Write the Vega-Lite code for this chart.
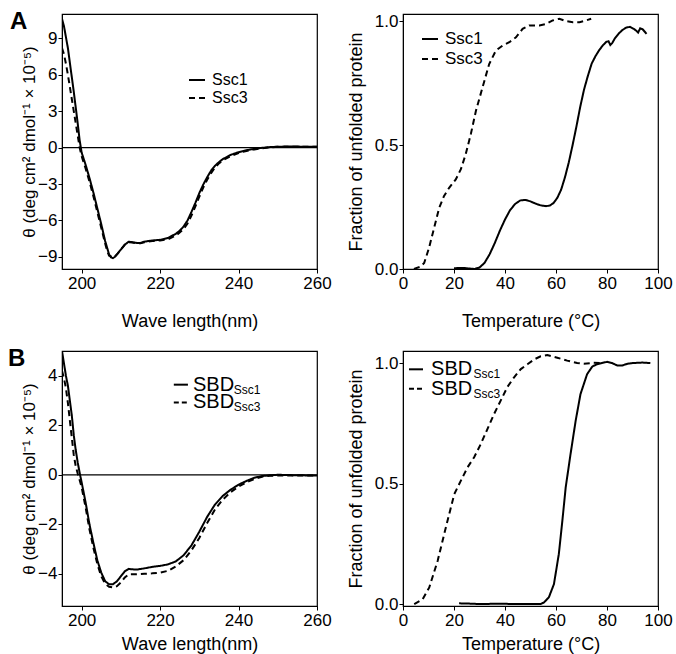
{
"$schema": "https://vega.github.io/schema/vega-lite/v6.json",
"background": "white",
"padding": {"left": 7, "top": 9, "right": 5, "bottom": 0},
"config": {
  "font": "Liberation Sans",
  "view": {"stroke": "black", "strokeWidth": 1.2},
  "axis": {"grid": false, "domainColor": "black", "tickColor": "black", "labelColor": "black", "titleColor": "black", "labelFontSize": 17, "titleFontSize": 18, "titleFontWeight": "normal", "tickSize": 4, "labelPadding": 2, "titlePadding": 7, "labelFlush": false, "labelOverlap": false},
  "axisY": {"labelPadding": 1},
  "legend": {"labelFontSize": 17, "labelColor": "black", "symbolType": "stroke", "symbolStrokeWidth": 2, "symbolStrokeColor": "black", "symbolSize": 256, "labelOffset": 6},
  "title": {"color": "black"}
},
"datasets": {
  "cdA": [
    {"wavelength":195,"theta":10.6,"protein":"Ssc1"},{"wavelength":195.5,"theta":10.0,"protein":"Ssc1"},{"wavelength":196,"theta":9.1,"protein":"Ssc1"},{"wavelength":196.5,"theta":8.2,"protein":"Ssc1"},{"wavelength":197,"theta":7.0,"protein":"Ssc1"},{"wavelength":197.5,"theta":5.8,"protein":"Ssc1"},{"wavelength":198,"theta":4.6,"protein":"Ssc1"},{"wavelength":198.5,"theta":3.3,"protein":"Ssc1"},{"wavelength":199,"theta":2.0,"protein":"Ssc1"},{"wavelength":199.5,"theta":0.6,"protein":"Ssc1"},{"wavelength":200,"theta":-0.4,"protein":"Ssc1"},{"wavelength":201,"theta":-1.4,"protein":"Ssc1"},{"wavelength":202,"theta":-2.5,"protein":"Ssc1"},{"wavelength":203,"theta":-3.7,"protein":"Ssc1"},{"wavelength":204,"theta":-5.0,"protein":"Ssc1"},{"wavelength":205,"theta":-6.3,"protein":"Ssc1"},{"wavelength":206,"theta":-7.7,"protein":"Ssc1"},{"wavelength":207,"theta":-8.8,"protein":"Ssc1"},{"wavelength":207.5,"theta":-9.05,"protein":"Ssc1"},{"wavelength":208,"theta":-9.1,"protein":"Ssc1"},{"wavelength":208.5,"theta":-9.0,"protein":"Ssc1"},{"wavelength":209,"theta":-8.8,"protein":"Ssc1"},{"wavelength":210,"theta":-8.4,"protein":"Ssc1"},{"wavelength":211,"theta":-8.0,"protein":"Ssc1"},{"wavelength":212,"theta":-7.75,"protein":"Ssc1"},{"wavelength":213,"theta":-7.8,"protein":"Ssc1"},{"wavelength":214,"theta":-7.85,"protein":"Ssc1"},{"wavelength":215,"theta":-7.85,"protein":"Ssc1"},{"wavelength":216,"theta":-7.75,"protein":"Ssc1"},{"wavelength":218,"theta":-7.65,"protein":"Ssc1"},{"wavelength":220,"theta":-7.6,"protein":"Ssc1"},{"wavelength":222,"theta":-7.45,"protein":"Ssc1"},{"wavelength":224,"theta":-7.1,"protein":"Ssc1"},{"wavelength":225,"theta":-6.85,"protein":"Ssc1"},{"wavelength":226,"theta":-6.5,"protein":"Ssc1"},{"wavelength":227,"theta":-6.0,"protein":"Ssc1"},{"wavelength":228,"theta":-5.3,"protein":"Ssc1"},{"wavelength":229,"theta":-4.55,"protein":"Ssc1"},{"wavelength":230,"theta":-3.75,"protein":"Ssc1"},{"wavelength":231,"theta":-3.05,"protein":"Ssc1"},{"wavelength":232,"theta":-2.45,"protein":"Ssc1"},{"wavelength":233,"theta":-1.9,"protein":"Ssc1"},{"wavelength":234,"theta":-1.5,"protein":"Ssc1"},{"wavelength":235,"theta":-1.2,"protein":"Ssc1"},{"wavelength":236,"theta":-0.95,"protein":"Ssc1"},{"wavelength":238,"theta":-0.6,"protein":"Ssc1"},{"wavelength":240,"theta":-0.38,"protein":"Ssc1"},{"wavelength":242,"theta":-0.22,"protein":"Ssc1"},{"wavelength":244,"theta":-0.1,"protein":"Ssc1"},{"wavelength":246,"theta":-0.02,"protein":"Ssc1"},{"wavelength":248,"theta":0.04,"protein":"Ssc1"},{"wavelength":250,"theta":0.07,"protein":"Ssc1"},{"wavelength":252,"theta":0.08,"protein":"Ssc1"},{"wavelength":255,"theta":0.08,"protein":"Ssc1"},{"wavelength":258,"theta":0.07,"protein":"Ssc1"},{"wavelength":260,"theta":0.07,"protein":"Ssc1"},
    {"wavelength":195,"theta":8.2,"protein":"Ssc3"},{"wavelength":195.5,"theta":7.7,"protein":"Ssc3"},{"wavelength":196,"theta":6.9,"protein":"Ssc3"},{"wavelength":196.5,"theta":6.0,"protein":"Ssc3"},{"wavelength":197,"theta":5.0,"protein":"Ssc3"},{"wavelength":197.5,"theta":4.0,"protein":"Ssc3"},{"wavelength":198,"theta":3.0,"protein":"Ssc3"},{"wavelength":198.5,"theta":2.0,"protein":"Ssc3"},{"wavelength":199,"theta":1.0,"protein":"Ssc3"},{"wavelength":199.5,"theta":0.0,"protein":"Ssc3"},{"wavelength":200,"theta":-0.7,"protein":"Ssc3"},{"wavelength":201,"theta":-1.7,"protein":"Ssc3"},{"wavelength":202,"theta":-2.8,"protein":"Ssc3"},{"wavelength":203,"theta":-4.0,"protein":"Ssc3"},{"wavelength":204,"theta":-5.3,"protein":"Ssc3"},{"wavelength":205,"theta":-6.6,"protein":"Ssc3"},{"wavelength":206,"theta":-7.9,"protein":"Ssc3"},{"wavelength":206.5,"theta":-8.5,"protein":"Ssc3"},{"wavelength":207,"theta":-8.9,"protein":"Ssc3"},{"wavelength":207.5,"theta":-8.95,"protein":"Ssc3"},{"wavelength":208,"theta":-8.85,"protein":"Ssc3"},{"wavelength":208.5,"theta":-8.95,"protein":"Ssc3"},{"wavelength":209,"theta":-8.8,"protein":"Ssc3"},{"wavelength":210,"theta":-8.4,"protein":"Ssc3"},{"wavelength":211,"theta":-8.0,"protein":"Ssc3"},{"wavelength":212,"theta":-7.8,"protein":"Ssc3"},{"wavelength":213,"theta":-7.82,"protein":"Ssc3"},{"wavelength":214,"theta":-7.88,"protein":"Ssc3"},{"wavelength":215,"theta":-7.88,"protein":"Ssc3"},{"wavelength":216,"theta":-7.8,"protein":"Ssc3"},{"wavelength":218,"theta":-7.7,"protein":"Ssc3"},{"wavelength":220,"theta":-7.65,"protein":"Ssc3"},{"wavelength":222,"theta":-7.55,"protein":"Ssc3"},{"wavelength":224,"theta":-7.25,"protein":"Ssc3"},{"wavelength":225,"theta":-7.0,"protein":"Ssc3"},{"wavelength":226,"theta":-6.7,"protein":"Ssc3"},{"wavelength":227,"theta":-6.25,"protein":"Ssc3"},{"wavelength":228,"theta":-5.6,"protein":"Ssc3"},{"wavelength":229,"theta":-4.85,"protein":"Ssc3"},{"wavelength":230,"theta":-4.05,"protein":"Ssc3"},{"wavelength":231,"theta":-3.3,"protein":"Ssc3"},{"wavelength":232,"theta":-2.65,"protein":"Ssc3"},{"wavelength":233,"theta":-2.1,"protein":"Ssc3"},{"wavelength":234,"theta":-1.65,"protein":"Ssc3"},{"wavelength":235,"theta":-1.3,"protein":"Ssc3"},{"wavelength":236,"theta":-1.05,"protein":"Ssc3"},{"wavelength":238,"theta":-0.7,"protein":"Ssc3"},{"wavelength":240,"theta":-0.45,"protein":"Ssc3"},{"wavelength":242,"theta":-0.28,"protein":"Ssc3"},{"wavelength":244,"theta":-0.15,"protein":"Ssc3"},{"wavelength":246,"theta":-0.05,"protein":"Ssc3"},{"wavelength":248,"theta":0.02,"protein":"Ssc3"},{"wavelength":250,"theta":0.06,"protein":"Ssc3"},{"wavelength":252,"theta":0.07,"protein":"Ssc3"},{"wavelength":255,"theta":0.07,"protein":"Ssc3"},{"wavelength":258,"theta":0.06,"protein":"Ssc3"},{"wavelength":260,"theta":0.06,"protein":"Ssc3"}
  ],
  "meltA": [
    {"temperature":20,"fraction":0.003,"protein":"Ssc1"},{"temperature":22,"fraction":0.004,"protein":"Ssc1"},{"temperature":24,"fraction":0.004,"protein":"Ssc1"},{"temperature":26,"fraction":0.002,"protein":"Ssc1"},{"temperature":28,"fraction":0.0,"protein":"Ssc1"},{"temperature":30,"fraction":0.006,"protein":"Ssc1"},{"temperature":32,"fraction":0.025,"protein":"Ssc1"},{"temperature":34,"fraction":0.06,"protein":"Ssc1"},{"temperature":36,"fraction":0.105,"protein":"Ssc1"},{"temperature":38,"fraction":0.155,"protein":"Ssc1"},{"temperature":40,"fraction":0.2,"protein":"Ssc1"},{"temperature":42,"fraction":0.238,"protein":"Ssc1"},{"temperature":44,"fraction":0.263,"protein":"Ssc1"},{"temperature":46,"fraction":0.277,"protein":"Ssc1"},{"temperature":48,"fraction":0.279,"protein":"Ssc1"},{"temperature":50,"fraction":0.273,"protein":"Ssc1"},{"temperature":52,"fraction":0.264,"protein":"Ssc1"},{"temperature":54,"fraction":0.257,"protein":"Ssc1"},{"temperature":56,"fraction":0.254,"protein":"Ssc1"},{"temperature":57.5,"fraction":0.256,"protein":"Ssc1"},{"temperature":59,"fraction":0.266,"protein":"Ssc1"},{"temperature":60.5,"fraction":0.287,"protein":"Ssc1"},{"temperature":62,"fraction":0.32,"protein":"Ssc1"},{"temperature":63.5,"fraction":0.37,"protein":"Ssc1"},{"temperature":65,"fraction":0.43,"protein":"Ssc1"},{"temperature":66.5,"fraction":0.5,"protein":"Ssc1"},{"temperature":68,"fraction":0.575,"protein":"Ssc1"},{"temperature":69.5,"fraction":0.655,"protein":"Ssc1"},{"temperature":71,"fraction":0.725,"protein":"Ssc1"},{"temperature":72.5,"fraction":0.78,"protein":"Ssc1"},{"temperature":74,"fraction":0.83,"protein":"Ssc1"},{"temperature":75.5,"fraction":0.86,"protein":"Ssc1"},{"temperature":77,"fraction":0.885,"protein":"Ssc1"},{"temperature":78.5,"fraction":0.905,"protein":"Ssc1"},{"temperature":79.8,"fraction":0.918,"protein":"Ssc1"},{"temperature":80.6,"fraction":0.92,"protein":"Ssc1"},{"temperature":81.3,"fraction":0.905,"protein":"Ssc1"},{"temperature":82,"fraction":0.912,"protein":"Ssc1"},{"temperature":83,"fraction":0.93,"protein":"Ssc1"},{"temperature":84.5,"fraction":0.95,"protein":"Ssc1"},{"temperature":86,"fraction":0.965,"protein":"Ssc1"},{"temperature":87.5,"fraction":0.975,"protein":"Ssc1"},{"temperature":89,"fraction":0.978,"protein":"Ssc1"},{"temperature":90.5,"fraction":0.97,"protein":"Ssc1"},{"temperature":91.5,"fraction":0.962,"protein":"Ssc1"},{"temperature":92.2,"fraction":0.955,"protein":"Ssc1"},{"temperature":93,"fraction":0.972,"protein":"Ssc1"},{"temperature":94,"fraction":0.968,"protein":"Ssc1"},{"temperature":95.5,"fraction":0.95,"protein":"Ssc1"},
    {"temperature":4.3,"fraction":0.0,"protein":"Ssc3"},{"temperature":6.9,"fraction":0.01,"protein":"Ssc3"},{"temperature":8.3,"fraction":0.024,"protein":"Ssc3"},{"temperature":10.2,"fraction":0.085,"protein":"Ssc3"},{"temperature":12.2,"fraction":0.166,"protein":"Ssc3"},{"temperature":14.2,"fraction":0.247,"protein":"Ssc3"},{"temperature":16.1,"fraction":0.295,"protein":"Ssc3"},{"temperature":18.1,"fraction":0.328,"protein":"Ssc3"},{"temperature":20.7,"fraction":0.362,"protein":"Ssc3"},{"temperature":22.7,"fraction":0.403,"protein":"Ssc3"},{"temperature":24.6,"fraction":0.464,"protein":"Ssc3"},{"temperature":26.6,"fraction":0.545,"protein":"Ssc3"},{"temperature":28.6,"fraction":0.639,"protein":"Ssc3"},{"temperature":31.2,"fraction":0.734,"protein":"Ssc3"},{"temperature":33.8,"fraction":0.828,"protein":"Ssc3"},{"temperature":36.4,"fraction":0.882,"protein":"Ssc3"},{"temperature":39.1,"fraction":0.903,"protein":"Ssc3"},{"temperature":41.7,"fraction":0.916,"protein":"Ssc3"},{"temperature":44.3,"fraction":0.936,"protein":"Ssc3"},{"temperature":46.9,"fraction":0.97,"protein":"Ssc3"},{"temperature":49.5,"fraction":0.984,"protein":"Ssc3"},{"temperature":53.5,"fraction":0.984,"protein":"Ssc3"},{"temperature":56.1,"fraction":0.99,"protein":"Ssc3"},{"temperature":58.7,"fraction":1.004,"protein":"Ssc3"},{"temperature":61.3,"fraction":1.011,"protein":"Ssc3"},{"temperature":64,"fraction":1.001,"protein":"Ssc3"},{"temperature":66.6,"fraction":0.997,"protein":"Ssc3"},{"temperature":69.2,"fraction":0.997,"protein":"Ssc3"},{"temperature":71.8,"fraction":1.004,"protein":"Ssc3"},{"temperature":73.8,"fraction":1.011,"protein":"Ssc3"}
  ],
  "cdB": [
    {"wavelength":195,"theta":5.0,"protein":"SBD Ssc1"},{"wavelength":195.5,"theta":4.5,"protein":"SBD Ssc1"},{"wavelength":196,"theta":4.0,"protein":"SBD Ssc1"},{"wavelength":196.5,"theta":3.6,"protein":"SBD Ssc1"},{"wavelength":197,"theta":3.0,"protein":"SBD Ssc1"},{"wavelength":197.5,"theta":2.4,"protein":"SBD Ssc1"},{"wavelength":198,"theta":1.6,"protein":"SBD Ssc1"},{"wavelength":198.5,"theta":1.0,"protein":"SBD Ssc1"},{"wavelength":199,"theta":0.5,"protein":"SBD Ssc1"},{"wavelength":199.6,"theta":0.0,"protein":"SBD Ssc1"},{"wavelength":200,"theta":-0.3,"protein":"SBD Ssc1"},{"wavelength":201,"theta":-1.1,"protein":"SBD Ssc1"},{"wavelength":202,"theta":-2.0,"protein":"SBD Ssc1"},{"wavelength":203,"theta":-2.75,"protein":"SBD Ssc1"},{"wavelength":204,"theta":-3.45,"protein":"SBD Ssc1"},{"wavelength":205,"theta":-3.95,"protein":"SBD Ssc1"},{"wavelength":206,"theta":-4.3,"protein":"SBD Ssc1"},{"wavelength":207,"theta":-4.42,"protein":"SBD Ssc1"},{"wavelength":208,"theta":-4.42,"protein":"SBD Ssc1"},{"wavelength":209,"theta":-4.3,"protein":"SBD Ssc1"},{"wavelength":210,"theta":-4.1,"protein":"SBD Ssc1"},{"wavelength":211,"theta":-3.9,"protein":"SBD Ssc1"},{"wavelength":212,"theta":-3.8,"protein":"SBD Ssc1"},{"wavelength":213,"theta":-3.82,"protein":"SBD Ssc1"},{"wavelength":214,"theta":-3.83,"protein":"SBD Ssc1"},{"wavelength":216,"theta":-3.78,"protein":"SBD Ssc1"},{"wavelength":218,"theta":-3.72,"protein":"SBD Ssc1"},{"wavelength":220,"theta":-3.68,"protein":"SBD Ssc1"},{"wavelength":222,"theta":-3.62,"protein":"SBD Ssc1"},{"wavelength":224,"theta":-3.5,"protein":"SBD Ssc1"},{"wavelength":226,"theta":-3.25,"protein":"SBD Ssc1"},{"wavelength":228,"theta":-2.85,"protein":"SBD Ssc1"},{"wavelength":230,"theta":-2.3,"protein":"SBD Ssc1"},{"wavelength":232,"theta":-1.7,"protein":"SBD Ssc1"},{"wavelength":234,"theta":-1.2,"protein":"SBD Ssc1"},{"wavelength":236,"theta":-0.85,"protein":"SBD Ssc1"},{"wavelength":238,"theta":-0.6,"protein":"SBD Ssc1"},{"wavelength":240,"theta":-0.4,"protein":"SBD Ssc1"},{"wavelength":242,"theta":-0.25,"protein":"SBD Ssc1"},{"wavelength":244,"theta":-0.12,"protein":"SBD Ssc1"},{"wavelength":246,"theta":-0.05,"protein":"SBD Ssc1"},{"wavelength":248,"theta":-0.02,"protein":"SBD Ssc1"},{"wavelength":250,"theta":0.0,"protein":"SBD Ssc1"},{"wavelength":255,"theta":-0.02,"protein":"SBD Ssc1"},{"wavelength":260,"theta":-0.03,"protein":"SBD Ssc1"},
    {"wavelength":195,"theta":4.2,"protein":"SBD Ssc3"},{"wavelength":195.5,"theta":3.9,"protein":"SBD Ssc3"},{"wavelength":196,"theta":3.5,"protein":"SBD Ssc3"},{"wavelength":196.5,"theta":2.9,"protein":"SBD Ssc3"},{"wavelength":197,"theta":2.2,"protein":"SBD Ssc3"},{"wavelength":197.5,"theta":1.5,"protein":"SBD Ssc3"},{"wavelength":198,"theta":0.8,"protein":"SBD Ssc3"},{"wavelength":198.5,"theta":0.35,"protein":"SBD Ssc3"},{"wavelength":199,"theta":0.05,"protein":"SBD Ssc3"},{"wavelength":199.3,"theta":-0.1,"protein":"SBD Ssc3"},{"wavelength":200,"theta":-0.5,"protein":"SBD Ssc3"},{"wavelength":201,"theta":-1.3,"protein":"SBD Ssc3"},{"wavelength":202,"theta":-2.2,"protein":"SBD Ssc3"},{"wavelength":203,"theta":-2.95,"protein":"SBD Ssc3"},{"wavelength":204,"theta":-3.6,"protein":"SBD Ssc3"},{"wavelength":205,"theta":-4.1,"protein":"SBD Ssc3"},{"wavelength":206,"theta":-4.4,"protein":"SBD Ssc3"},{"wavelength":207,"theta":-4.52,"protein":"SBD Ssc3"},{"wavelength":208,"theta":-4.55,"protein":"SBD Ssc3"},{"wavelength":209,"theta":-4.5,"protein":"SBD Ssc3"},{"wavelength":210,"theta":-4.35,"protein":"SBD Ssc3"},{"wavelength":211,"theta":-4.15,"protein":"SBD Ssc3"},{"wavelength":212,"theta":-4.02,"protein":"SBD Ssc3"},{"wavelength":214,"theta":-4.02,"protein":"SBD Ssc3"},{"wavelength":216,"theta":-4.0,"protein":"SBD Ssc3"},{"wavelength":218,"theta":-3.98,"protein":"SBD Ssc3"},{"wavelength":220,"theta":-3.95,"protein":"SBD Ssc3"},{"wavelength":222,"theta":-3.88,"protein":"SBD Ssc3"},{"wavelength":224,"theta":-3.7,"protein":"SBD Ssc3"},{"wavelength":226,"theta":-3.45,"protein":"SBD Ssc3"},{"wavelength":228,"theta":-3.05,"protein":"SBD Ssc3"},{"wavelength":230,"theta":-2.55,"protein":"SBD Ssc3"},{"wavelength":232,"theta":-1.95,"protein":"SBD Ssc3"},{"wavelength":234,"theta":-1.4,"protein":"SBD Ssc3"},{"wavelength":236,"theta":-1.0,"protein":"SBD Ssc3"},{"wavelength":238,"theta":-0.7,"protein":"SBD Ssc3"},{"wavelength":240,"theta":-0.48,"protein":"SBD Ssc3"},{"wavelength":242,"theta":-0.3,"protein":"SBD Ssc3"},{"wavelength":244,"theta":-0.17,"protein":"SBD Ssc3"},{"wavelength":246,"theta":-0.08,"protein":"SBD Ssc3"},{"wavelength":248,"theta":-0.04,"protein":"SBD Ssc3"},{"wavelength":250,"theta":-0.03,"protein":"SBD Ssc3"},{"wavelength":255,"theta":-0.03,"protein":"SBD Ssc3"},{"wavelength":260,"theta":-0.03,"protein":"SBD Ssc3"}
  ],
  "meltB": [
    {"temperature":22,"fraction":0.003,"protein":"SBD Ssc1"},{"temperature":26,"fraction":0.002,"protein":"SBD Ssc1"},{"temperature":30,"fraction":0.0,"protein":"SBD Ssc1"},{"temperature":35,"fraction":0.001,"protein":"SBD Ssc1"},{"temperature":40,"fraction":0.001,"protein":"SBD Ssc1"},{"temperature":45,"fraction":0.0,"protein":"SBD Ssc1"},{"temperature":50,"fraction":0.0,"protein":"SBD Ssc1"},{"temperature":54,"fraction":0.0,"protein":"SBD Ssc1"},{"temperature":55.3,"fraction":0.007,"protein":"SBD Ssc1"},{"temperature":57.2,"fraction":0.028,"protein":"SBD Ssc1"},{"temperature":59.2,"fraction":0.083,"protein":"SBD Ssc1"},{"temperature":61.1,"fraction":0.207,"protein":"SBD Ssc1"},{"temperature":62.5,"fraction":0.346,"protein":"SBD Ssc1"},{"temperature":63.8,"fraction":0.484,"protein":"SBD Ssc1"},{"temperature":65.7,"fraction":0.622,"protein":"SBD Ssc1"},{"temperature":67.7,"fraction":0.76,"protein":"SBD Ssc1"},{"temperature":69.6,"fraction":0.871,"protein":"SBD Ssc1"},{"temperature":72.2,"fraction":0.954,"protein":"SBD Ssc1"},{"temperature":74.2,"fraction":0.985,"protein":"SBD Ssc1"},{"temperature":76,"fraction":0.995,"protein":"SBD Ssc1"},{"temperature":78,"fraction":1.0,"protein":"SBD Ssc1"},{"temperature":80,"fraction":1.005,"protein":"SBD Ssc1"},{"temperature":82,"fraction":1.0,"protein":"SBD Ssc1"},{"temperature":84,"fraction":0.99,"protein":"SBD Ssc1"},{"temperature":86,"fraction":0.99,"protein":"SBD Ssc1"},{"temperature":88,"fraction":0.997,"protein":"SBD Ssc1"},{"temperature":90,"fraction":1.0,"protein":"SBD Ssc1"},{"temperature":94,"fraction":1.002,"protein":"SBD Ssc1"},{"temperature":97,"fraction":1.0,"protein":"SBD Ssc1"},
    {"temperature":4.4,"fraction":0.0,"protein":"SBD Ssc3"},{"temperature":7.7,"fraction":0.02,"protein":"SBD Ssc3"},{"temperature":10.3,"fraction":0.069,"protein":"SBD Ssc3"},{"temperature":13.6,"fraction":0.18,"protein":"SBD Ssc3"},{"temperature":16.8,"fraction":0.318,"protein":"SBD Ssc3"},{"temperature":20.1,"fraction":0.456,"protein":"SBD Ssc3"},{"temperature":22.7,"fraction":0.512,"protein":"SBD Ssc3"},{"temperature":25.3,"fraction":0.567,"protein":"SBD Ssc3"},{"temperature":27.9,"fraction":0.609,"protein":"SBD Ssc3"},{"temperature":30.5,"fraction":0.664,"protein":"SBD Ssc3"},{"temperature":33.1,"fraction":0.726,"protein":"SBD Ssc3"},{"temperature":35.7,"fraction":0.788,"protein":"SBD Ssc3"},{"temperature":38.3,"fraction":0.844,"protein":"SBD Ssc3"},{"temperature":40.9,"fraction":0.9,"protein":"SBD Ssc3"},{"temperature":43.5,"fraction":0.94,"protein":"SBD Ssc3"},{"temperature":46.2,"fraction":0.975,"protein":"SBD Ssc3"},{"temperature":48.8,"fraction":0.995,"protein":"SBD Ssc3"},{"temperature":51.4,"fraction":1.015,"protein":"SBD Ssc3"},{"temperature":54,"fraction":1.028,"protein":"SBD Ssc3"},{"temperature":56.6,"fraction":1.033,"protein":"SBD Ssc3"},{"temperature":60.5,"fraction":1.022,"protein":"SBD Ssc3"},{"temperature":64.4,"fraction":1.01,"protein":"SBD Ssc3"},{"temperature":68.3,"fraction":1.0,"protein":"SBD Ssc3"},{"temperature":70.9,"fraction":0.997,"protein":"SBD Ssc3"},{"temperature":74.8,"fraction":1.001,"protein":"SBD Ssc3"},{"temperature":78.7,"fraction":1.0,"protein":"SBD Ssc3"}
  ]
},
"columns": 2,
"spacing": {"row": 82, "column": 86},
"bounds": "flush",
"resolve": {"scale": {"strokeDash": "independent", "x": "independent", "y": "independent"}, "legend": {"strokeDash": "independent"}},
"concat": [
    {"width": 255, "height": 255,
     "title": {"text": "A", "anchor": "start", "frame": "group", "fontSize": 24, "fontWeight": "bold", "baseline": "top", "offset": 0, "dx": -52, "dy": 20},
     "layer": [
       {"data": {"name": "cdA"},
        "mark": {"type": "line", "clip": true, "color": "black", "strokeWidth": 2},
        "encoding": {
          "x": {"field": "wavelength", "type": "quantitative", "scale": {"domain": [195, 260], "nice": false, "zero": false}, "axis": {"values": [200, 220, 240, 260], "title": "Wave length(nm)", "titlePadding": 21}},
          "y": {"field": "theta", "type": "quantitative", "scale": {"domain": [-10, 11], "nice": false, "zero": false}, "axis": {"values": [-9, -6, -3, 0, 3, 6, 9], "title": "θ (deg cm² dmol⁻¹ × 10⁻⁵)", "titleFontSize": 17, "titlePadding": -1}},
          "strokeDash": {"field": "protein", "type": "nominal", "scale": {"domain": ["Ssc1", "Ssc3"], "range": [[1, 0], [6, 4]]}, "legend": {"title": null, "orient": "none", "legendX": 126, "legendY": 57, "rowPadding": 1, "labelFontSize": 16}}
        }},
       {"data": {"values": [{}]}, "mark": {"type": "rule", "color": "black", "strokeWidth": 1.2}, "encoding": {"y": {"datum": 0}}}
     ]},
    {"width": 255, "height": 255,
     "data": {"name": "meltA"},
     "mark": {"type": "line", "clip": true, "color": "black", "strokeWidth": 2},
     "encoding": {
       "x": {"field": "temperature", "type": "quantitative", "scale": {"domain": [0, 100], "nice": false}, "axis": {"values": [0, 20, 40, 60, 80, 100], "title": "Temperature (°C)", "titlePadding": 21}},
       "y": {"field": "fraction", "type": "quantitative", "scale": {"domain": [0, 1.03], "nice": false}, "axis": {"values": [0, 0.5, 1], "format": ".1f", "title": "Fraction of unfolded protein", "titlePadding": 9}},
       "strokeDash": {"field": "protein", "type": "nominal", "scale": {"domain": ["Ssc1", "Ssc3"], "range": [[1, 0], [6, 4]]}, "legend": {"title": null, "orient": "none", "legendX": 18, "legendY": 16, "rowPadding": 3}}
     }},
    {"width": 255, "height": 255,
     "title": {"text": "B", "anchor": "start", "frame": "group", "fontSize": 24, "fontWeight": "bold", "baseline": "top", "offset": 0, "dx": -54, "dy": 20},
     "layer": [
       {"data": {"name": "cdB"},
        "mark": {"type": "line", "clip": true, "color": "black", "strokeWidth": 2},
        "encoding": {
          "x": {"field": "wavelength", "type": "quantitative", "scale": {"domain": [195, 260], "nice": false, "zero": false}, "axis": {"values": [200, 220, 240, 260], "title": "Wave length(nm)", "titlePadding": 7}},
          "y": {"field": "theta", "type": "quantitative", "scale": {"domain": [-5.3, 5], "nice": false, "zero": false}, "axis": {"values": [-4, -2, 0, 2, 4], "title": "θ (deg cm² dmol⁻¹ × 10⁻⁵)", "titleFontSize": 17, "titlePadding": -1}},
          "strokeDash": {"field": "protein", "type": "nominal", "scale": {"domain": ["SBD Ssc1", "SBD Ssc3"], "range": [[1, 0], [6, 4]]}, "legend": null}
        }},
       {"data": {"values": [{}]}, "mark": {"type": "rule", "color": "black", "strokeWidth": 1.2}, "encoding": {"y": {"datum": 0}}},
       {"data": {"values": [{}]}, "mark": {"type": "rule", "color": "black", "strokeWidth": 2}, "encoding": {"x": {"datum": 223.5}, "x2": {"datum": 227.1}, "y": {"datum": 3.64}}},
       {"data": {"values": [{}]}, "mark": {"type": "rule", "color": "black", "strokeWidth": 2, "strokeDash": [5, 3]}, "encoding": {"x": {"datum": 223.5}, "x2": {"datum": 227.1}, "y": {"datum": 2.92}}},
       {"data": {"values": [{}]}, "mark": {"type": "text", "text": "SBD", "align": "left", "baseline": "middle", "fontSize": 20, "color": "black"}, "encoding": {"x": {"datum": 228.4}, "y": {"datum": 3.64}}},
       {"data": {"values": [{}]}, "mark": {"type": "text", "text": "SBD", "align": "left", "baseline": "middle", "fontSize": 20, "color": "black"}, "encoding": {"x": {"datum": 228.4}, "y": {"datum": 2.92}}},
       {"data": {"values": [{}]}, "mark": {"type": "text", "text": "Ssc1", "align": "left", "baseline": "middle", "fontSize": 12, "dy": 5, "color": "black"}, "encoding": {"x": {"datum": 238.8}, "y": {"datum": 3.64}}},
       {"data": {"values": [{}]}, "mark": {"type": "text", "text": "Ssc3", "align": "left", "baseline": "middle", "fontSize": 12, "dy": 5, "color": "black"}, "encoding": {"x": {"datum": 238.8}, "y": {"datum": 2.92}}}
     ]},
    {"width": 255, "height": 255,
     "layer": [
       {"data": {"name": "meltB"},
        "mark": {"type": "line", "clip": true, "color": "black", "strokeWidth": 2},
        "encoding": {
          "x": {"field": "temperature", "type": "quantitative", "scale": {"domain": [0, 100], "nice": false}, "axis": {"values": [0, 20, 40, 60, 80, 100], "title": "Temperature (°C)", "titlePadding": 7}},
          "y": {"field": "fraction", "type": "quantitative", "scale": {"domain": [-0.008, 1.05], "nice": false, "zero": false}, "axis": {"values": [0, 0.5, 1], "format": ".1f", "title": "Fraction of unfolded protein", "titlePadding": 9}},
          "strokeDash": {"field": "protein", "type": "nominal", "scale": {"domain": ["SBD Ssc1", "SBD Ssc3"], "range": [[1, 0], [6, 4]]}, "legend": null}
        }},
       {"data": {"values": [{}]}, "mark": {"type": "rule", "color": "black", "strokeWidth": 2}, "encoding": {"x": {"datum": 2.35}, "x2": {"datum": 7.84}, "y": {"datum": 0.974}}},
       {"data": {"values": [{}]}, "mark": {"type": "rule", "color": "black", "strokeWidth": 2, "strokeDash": [5, 3]}, "encoding": {"x": {"datum": 2.35}, "x2": {"datum": 7.84}, "y": {"datum": 0.893}}},
       {"data": {"values": [{}]}, "mark": {"type": "text", "text": "SBD", "align": "left", "baseline": "middle", "fontSize": 20, "color": "black"}, "encoding": {"x": {"datum": 11.0}, "y": {"datum": 0.974}}},
       {"data": {"values": [{}]}, "mark": {"type": "text", "text": "SBD", "align": "left", "baseline": "middle", "fontSize": 20, "color": "black"}, "encoding": {"x": {"datum": 11.0}, "y": {"datum": 0.893}}},
       {"data": {"values": [{}]}, "mark": {"type": "text", "text": "Ssc1", "align": "left", "baseline": "middle", "fontSize": 12, "dy": 5, "color": "black"}, "encoding": {"x": {"datum": 27.6}, "y": {"datum": 0.974}}},
       {"data": {"values": [{}]}, "mark": {"type": "text", "text": "Ssc3", "align": "left", "baseline": "middle", "fontSize": 12, "dy": 5, "color": "black"}, "encoding": {"x": {"datum": 27.6}, "y": {"datum": 0.893}}}
     ]}
]
}
